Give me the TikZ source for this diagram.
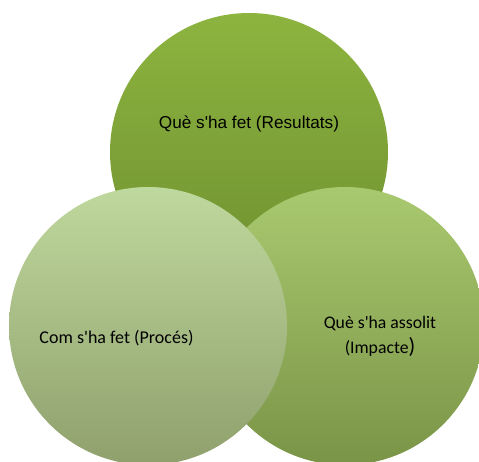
\documentclass[tikz,border=0pt]{standalone}
\usepackage{fontspec}
\setmainfont{Liberation Sans}
\newfontfamily\calibrifont{Carlito}
\definecolor{resTop}{HTML}{8DB43F}
\definecolor{resBot}{HTML}{6E8F30}
\definecolor{impTop}{HTML}{A9C96F}
\definecolor{impBot}{HTML}{7A9447}
\definecolor{proTop}{HTML}{BFD89D}
\definecolor{proBot}{HTML}{8FA06D}
\newcommand{\apos}{\textquotesingle}
\tikzset{
    bola/.style={circle, minimum size=278pt, inner sep=0pt},
    etiqueta/.style={text=black, align=center, inner sep=0pt}
}
\begin{document}
\begin{tikzpicture}[x=1pt, y=-1pt]
    \useasboundingbox (0,0) rectangle (479,461);
    \clip (0,0) rectangle (479,461);

    \node[bola, top color=resTop, bottom color=resBot] (resultats) at (249,152) {};
    \node[bola, top color=impTop, bottom color=impBot] (impacte) at (345,326) {};
    \node[bola, top color=proTop, bottom color=proBot] (proces) at (148,326) {};

    \node[etiqueta, anchor=base, font=\fontsize{17.2}{20}\selectfont] (tres) at (249,128) {Què s\apos ha fet (Resultats)};
    \node[etiqueta, anchor=base, font=\calibrifont\fontsize{18}{21}\selectfont] (tpro) at (116.5,343) {Com s\apos ha fet (Procés)};
    \node[etiqueta, font=\calibrifont\fontsize{17.7}{25}\selectfont] (timp) at (380,336) {Què s\apos ha assolit\\(Impacte{\fontsize{22}{25}\selectfont)}};
\end{tikzpicture}
\end{document}
